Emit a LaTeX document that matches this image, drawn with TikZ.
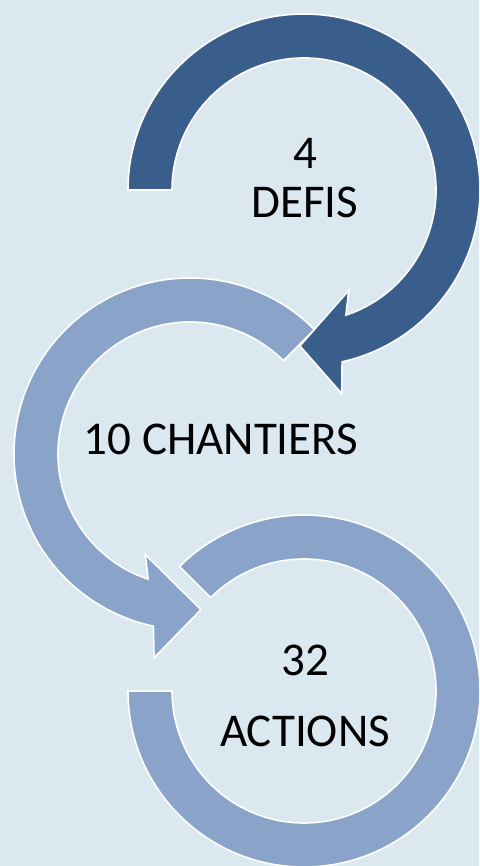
\documentclass[tikz,border=0pt]{standalone}
\usepackage{fontspec}
\setmainfont{Carlito}
\usepackage{tikz}
\usetikzlibrary{calc}
\definecolor{bgblue}{HTML}{DBE8F0}
\definecolor{darkarc}{HTML}{3A5E8B}
\definecolor{lightarc}{HTML}{89A3C9}
\tikzstyle{band}=[draw=white,line width=1.6pt,line join=miter]
\tikzstyle{bigtext}=[font=\fontsize{47}{49}\selectfont,align=center,inner sep=0pt]

\begin{document}
\begin{tikzpicture}[x=1pt,y=1pt]

    \path[use as bounding box,fill=bgblue] (0,0) rectangle (479,866);

    \foreach \x/ \y/ \name in {304/676/c1, 190/412/c2, 304/175/c3}
        \coordinate (\name) at (\x,\y);

    % bottom ring, no head
    \path[band,fill=lightarc] ($(c3)+(180:176)$) arc[start angle=180, end angle=495, radius=176]
        -- ($(c3)+(135:132)$) arc[start angle=495, end angle=180, radius=132] -- cycle;

    % middle ring, head at the bottom
    \path[band,fill=lightarc] ($(c2)+(45:176)$) arc[start angle=45, end angle=258, radius=176]
        -- ($(c2)+(260:207)$) -- ($(c2)+(274:156)$) -- ($(c2)+(246:110)$)
        -- ($(c2)+(251.5:132)$) arc[start angle=251.5, end angle=45, radius=132] -- cycle;

    % top ring, head at the bottom
    \path[band,fill=darkarc] ($(c1)+(180:176)$) arc[start angle=180, end angle=-77.5, radius=176]
        -- ($(c1)+(-79.5:207)$) -- ($(c1)+(-91.5:156)$) -- ($(c1)+(-66:110)$)
        -- ($(c1)+(-71.5:132)$) arc[start angle=-71.5, end angle=180, radius=132] -- cycle;

    \node[bigtext] (defis) at (305,688) {4\\DEFIS};
    \node[bigtext] (chantiers) at (221,427) {10 CHANTIERS};
    \node[bigtext] (actions) at (305,170) {32\\[22pt]ACTIONS};

\end{tikzpicture}
\end{document}
